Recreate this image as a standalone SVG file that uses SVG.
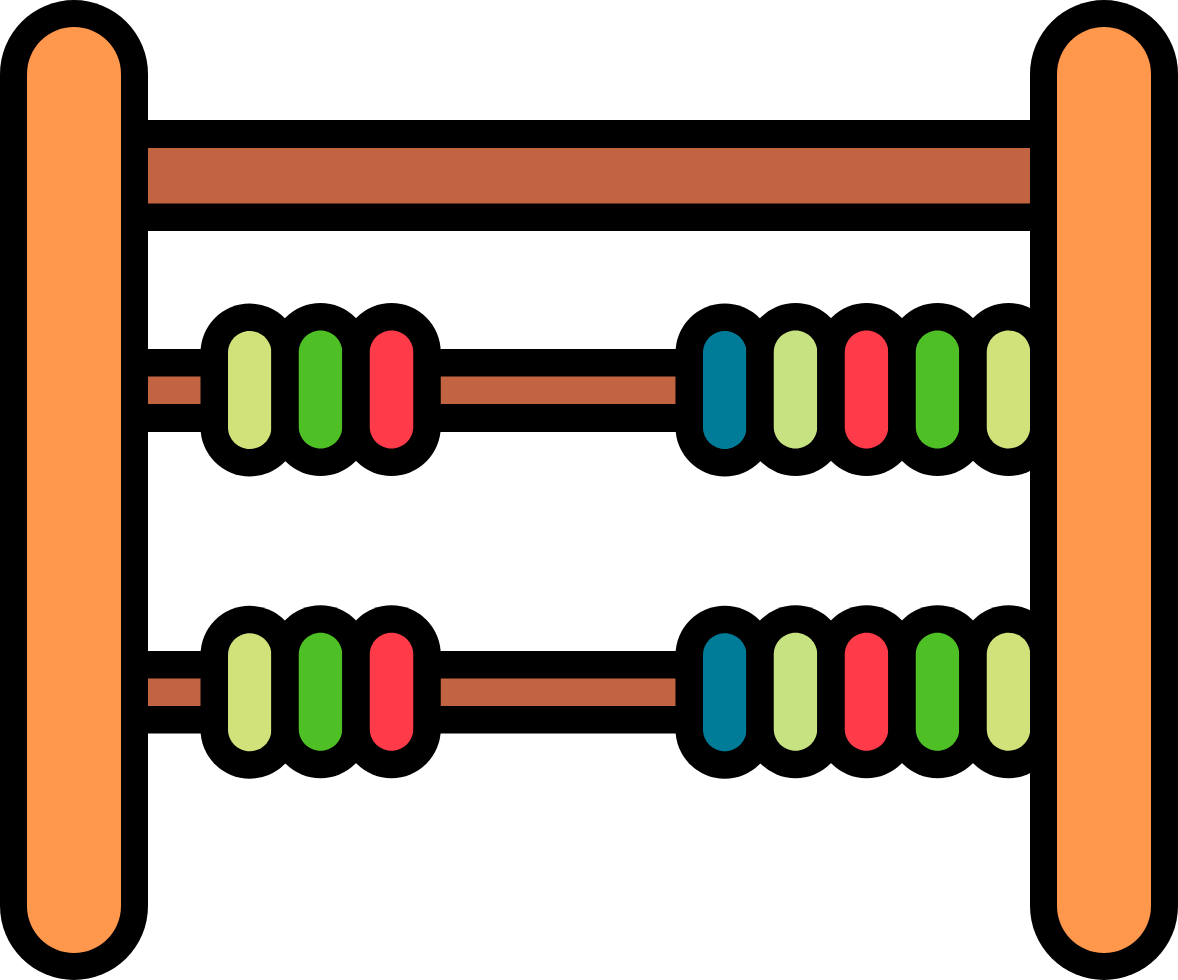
<svg xmlns="http://www.w3.org/2000/svg" xmlns:xlink="http://www.w3.org/1999/xlink" width="1178" height="980" viewBox="0 0 1178 980">
<style>
.wood{fill:#C26441}
.orange{fill:#FF984C}
.pale{fill:#D2E27B}
.lime{fill:#C7E280}
.green{fill:#4FBF26}
.red{fill:#FF3B4A}
.blue{fill:#007C99}
.bo,.po{stroke-linecap:round;fill:none;stroke:#000}
.bo{stroke-width:98.500}
.po{stroke-width:148}
</style>
<defs>
<line id="beadO" class="bo" x1="21.750" y1="21.750" x2="21.750" y2="96.250"/>
<path id="beadI" d="M0 21.750C0 9.740 9.740 0 21.750 0C33.760 0 43.500 9.740 43.500 21.750V96.250C43.500 108.260 33.760 118 21.750 118C9.740 118 0 108.260 0 96.250Z"/>
<line id="postO" class="po" x1="74" y1="74" x2="74" y2="906"/>
<path id="postI" d="M27 74C27 48.040 48.040 27 74 27C99.960 27 121 48.040 121 74V906C121 931.960 99.960 953 74 953C48.040 953 27 931.960 27 906Z"/>
</defs>
<rect width="1178" height="980" fill="#fff"/>
<g id="rails">
<g id="rail-top"><rect x="148" y="120" width="882" height="111"/><rect class="wood" x="148" y="148" width="882" height="55.500"/></g>
<g id="rail-1"><rect x="148" y="349" width="882" height="83"/><rect class="wood" x="148" y="376.500" width="882" height="27.500"/></g>
<g id="rail-2"><rect x="148" y="651" width="882" height="82.500"/><rect class="wood" x="148" y="678.500" width="882" height="27.500"/></g>
</g>
<g id="beads-row-1">
<g id="r1b1" transform="translate(228 331)"><use xlink:href="#beadO"/><use xlink:href="#beadI" class="pale"/></g>
<g id="r1b2" transform="translate(298.750 330.500)"><use xlink:href="#beadO"/><use xlink:href="#beadI" class="green"/></g>
<g id="r1b3" transform="translate(369.750 330.500)"><use xlink:href="#beadO"/><use xlink:href="#beadI" class="red"/></g>
<g id="r1b4" transform="translate(703 331)"><use xlink:href="#beadO"/><use xlink:href="#beadI" class="blue"/></g>
<g id="r1b5" transform="translate(773.750 330.500)"><use xlink:href="#beadO"/><use xlink:href="#beadI" class="lime"/></g>
<g id="r1b6" transform="translate(844.750 330.500)"><use xlink:href="#beadO"/><use xlink:href="#beadI" class="red"/></g>
<g id="r1b7" transform="translate(915.750 330.500)"><use xlink:href="#beadO"/><use xlink:href="#beadI" class="green"/></g>
<g id="r1b8" transform="translate(986.750 330.500)"><use xlink:href="#beadO"/><use xlink:href="#beadI" class="pale"/></g>
</g>
<g id="beads-row-2">
<g id="r2b1" transform="translate(228 633.250)"><use xlink:href="#beadO"/><use xlink:href="#beadI" class="pale"/></g>
<g id="r2b2" transform="translate(298.750 632.750)"><use xlink:href="#beadO"/><use xlink:href="#beadI" class="green"/></g>
<g id="r2b3" transform="translate(369.750 632.750)"><use xlink:href="#beadO"/><use xlink:href="#beadI" class="red"/></g>
<g id="r2b4" transform="translate(703 633.250)"><use xlink:href="#beadO"/><use xlink:href="#beadI" class="blue"/></g>
<g id="r2b5" transform="translate(773.750 632.750)"><use xlink:href="#beadO"/><use xlink:href="#beadI" class="lime"/></g>
<g id="r2b6" transform="translate(844.750 632.750)"><use xlink:href="#beadO"/><use xlink:href="#beadI" class="red"/></g>
<g id="r2b7" transform="translate(915.750 632.750)"><use xlink:href="#beadO"/><use xlink:href="#beadI" class="green"/></g>
<g id="r2b8" transform="translate(986.750 632.750)"><use xlink:href="#beadO"/><use xlink:href="#beadI" class="pale"/></g>
</g>
<g id="post-left"><use xlink:href="#postO"/><use xlink:href="#postI" class="orange"/></g>
<g id="post-right" transform="translate(1030 0)"><use xlink:href="#postO"/><use xlink:href="#postI" class="orange"/></g>
</svg>
